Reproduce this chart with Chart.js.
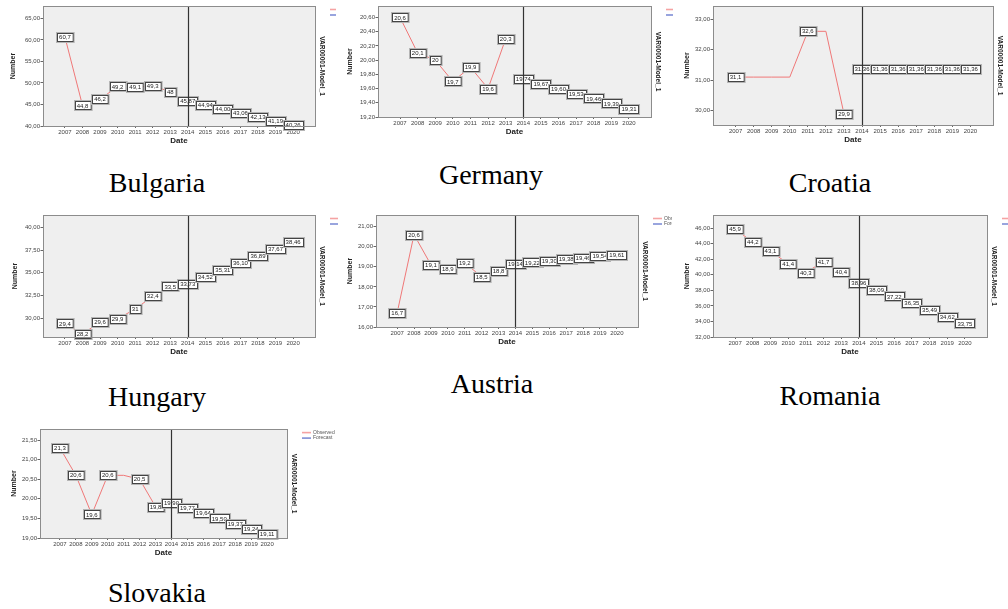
<!DOCTYPE html>
<html>
<head>
<meta charset="utf-8">
<script src="https://cdn.jsdelivr.net/npm/chart.js"></script>
<style>
body { margin: 0; background: #fff; width: 1008px; height: 609px; position: relative; overflow: hidden; }
canvas { position: absolute; }
.caption { position: absolute; font-family: 'Liberation Serif', 'Times New Roman', serif; font-size: 28px; color: #000; transform: translate(-50%, -50%); white-space: nowrap; }
</style>
</head>
<body>
<canvas id="bulgaria" width="336" height="150" style="left:0px;top:0px"></canvas>
<canvas id="germany" width="335" height="150" style="left:338px;top:0px"></canvas>
<canvas id="croatia" width="328" height="150" style="left:680px;top:0px"></canvas>
<canvas id="hungary" width="338" height="155" style="left:0px;top:205px"></canvas>
<canvas id="austria" width="332" height="150" style="left:340px;top:205px"></canvas>
<canvas id="romania" width="328" height="155" style="left:680px;top:205px"></canvas>
<canvas id="slovakia" width="360" height="135" style="left:0px;top:425px"></canvas>

<div class="caption" style="left:157px;top:183px">Bulgaria</div>
<div class="caption" style="left:491px;top:175px">Germany</div>
<div class="caption" style="left:830px;top:183px">Croatia</div>
<div class="caption" style="left:157px;top:397px">Hungary</div>
<div class="caption" style="left:492px;top:384px">Austria</div>
<div class="caption" style="left:830px;top:396px">Romania</div>
<div class="caption" style="left:157px;top:593px">Slovakia</div>

<script>
// years
var observedYears = [2007, 2008, 2009, 2010, 2011, 2012, 2013];
var forecastYears = [2014, 2015, 2016, 2017, 2018, 2019, 2020];
var yearTicks = observedYears.concat(forecastYears);

// Bulgaria
var bulgariaObserved = [60.7, 44.8, 46.2, 49.2, 49.1, 49.3, 48];
var bulgariaForecast = [45.87, 44.94, 44.00, 43.06, 42.13, 41.19, 40.26];
var bulgariaTicks = [40, 45, 50, 55, 60, 65];

// Germany
var germanyObserved = [20.6, 20.1, 20, 19.7, 19.9, 19.6, 20.3];
var germanyForecast = [19.74, 19.67, 19.60, 19.53, 19.46, 19.39, 19.31];
var germanyTicks = [19.2, 19.4, 19.6, 19.8, 20.0, 20.2, 20.4, 20.6];

// Croatia
var croatiaObserved = [31.1, 31.1, 31.1, 31.1, 32.6, 32.6, 29.9];
var croatiaForecast = [31.36, 31.36, 31.36, 31.36, 31.36, 31.36, 31.36];
var croatiaTicks = [30, 31, 32, 33];

// Hungary
var hungaryObserved = [29.4, 28.2, 29.6, 29.9, 31, 32.4, 33.5];
var hungaryForecast = [33.73, 34.52, 35.31, 36.10, 36.89, 37.67, 38.46];
var hungaryTicks = [30, 32.5, 35, 37.5, 40];

// Austria
var austriaObserved = [16.7, 20.6, 19.1, 18.9, 19.2, 18.5, 18.8];
var austriaForecast = [19.14, 19.22, 19.30, 19.38, 19.46, 19.54, 19.61];
var austriaTicks = [16, 17, 18, 19, 20, 21];

// Romania
var romaniaObserved = [45.9, 44.2, 43.1, 41.4, 40.3, 41.7, 40.4];
var romaniaForecast = [38.96, 38.09, 37.22, 36.35, 35.49, 34.62, 33.75];
var romaniaTicks = [32, 34, 36, 38, 40, 42, 44, 46];

// Slovakia
var slovakiaObserved = [21.3, 20.6, 19.6, 20.6, 20.6, 20.5, 19.8];
var slovakiaForecast = [19.90, 19.77, 19.64, 19.50, 19.37, 19.24, 19.11];
var slovakiaTicks = [19, 19.5, 20, 20.5, 21, 21.5];

function comma(s) { return String(s).replace('.', ','); }

// grey plot area, boxed labels, 2014 line, right-hand title and legend
var spssLook = {
    id: 'spssLook',
    beforeDraw: function(chart) {
        var a = chart.chartArea, ctx = chart.ctx;
        ctx.save();
        ctx.fillStyle = '#efefef';
        ctx.fillRect(a.left, a.top, a.right - a.left, a.bottom - a.top);
        ctx.restore();
    },
    afterDatasetsDraw: function(chart) {
        var ctx = chart.ctx;
        ctx.save();
        ctx.font = '6px "Liberation Sans", Arial, sans-serif';
        ctx.textAlign = 'center';
        ctx.textBaseline = 'middle';
        chart.data.datasets.forEach(function(ds, di) {
            var meta = chart.getDatasetMeta(di);
            meta.data.forEach(function(pt, i) {
                var v = ds.data[i].y;
                if (di === 0 && i > 0 && v === ds.data[i - 1].y) return;
                var txt = di === 0 ? comma(v) : comma(v.toFixed(2));
                var w = ctx.measureText(txt).width + 4, h = 8;
                var x = Math.round(pt.x - w / 2) + 0.5, y = Math.round(pt.y - h / 2) + 0.5;
                ctx.fillStyle = '#fff';
                ctx.fillRect(x, y, w, h);
                ctx.strokeStyle = '#b5b5b5';
                ctx.lineWidth = 1;
                ctx.strokeRect(x - 1, y - 1, w + 2, h + 2);
                ctx.strokeStyle = '#444';
                ctx.strokeRect(x, y, w, h);
                ctx.fillStyle = '#222';
                ctx.fillText(txt, pt.x, pt.y + 0.5);
            });
        });
        ctx.restore();
    },
    afterDraw: function(chart) {
        var a = chart.chartArea, ctx = chart.ctx;
        ctx.save();
        // forecast start
        var xl = Math.round(chart.scales.x.getPixelForValue(2014)) + 0.5;
        ctx.strokeStyle = '#333';
        ctx.lineWidth = 1.2;
        ctx.beginPath();
        ctx.moveTo(xl, a.top);
        ctx.lineTo(xl, a.bottom);
        ctx.stroke();
        // frame
        ctx.strokeStyle = '#8c8c8c';
        ctx.lineWidth = 1;
        ctx.strokeRect(Math.round(a.left) + 0.5, Math.round(a.top) + 0.5, Math.round(a.right - a.left), Math.round(a.bottom - a.top));
        // right title
        ctx.translate(a.right + 6.5, (a.top + a.bottom) / 2);
        ctx.rotate(Math.PI / 2);
        ctx.font = 'bold 6.5px "Liberation Sans", Arial, sans-serif';
        ctx.fillStyle = '#222';
        ctx.textAlign = 'center';
        ctx.textBaseline = 'middle';
        ctx.fillText('VAR00001-Model_1', 0, 0);
        ctx.restore();
        // legend
        ctx.save();
        var lx = a.right + 15;
        var items = [['Observed', '#f5a3a3', a.top + 3.5], ['Forecast', '#7f8ed6', a.top + 9]];
        ctx.font = '5px "Liberation Sans", Arial, sans-serif';
        ctx.textBaseline = 'middle';
        items.forEach(function(it) {
            ctx.strokeStyle = it[1];
            ctx.lineWidth = 1.6;
            ctx.beginPath();
            ctx.moveTo(lx, it[2]);
            ctx.lineTo(lx + 9, it[2]);
            ctx.stroke();
            ctx.fillStyle = '#555';
            ctx.fillText(it[0], lx + 11, it[2]);
        });
        ctx.restore();
    }
};

function makeChart(id, observed, forecast, yTicks, yMin, yMax, box) {
    var canvas = document.getElementById(id);
    var axisH = 22;
    return new Chart(canvas.getContext('2d'), {
        type: 'line',
        data: {
            datasets: [{
                label: 'Observed',
                data: observedYears.map(function(yr, i) { return {x: yr, y: observed[i]}; }),
                borderColor: '#f07878',
                borderWidth: 1,
                pointRadius: 0,
                fill: false
            }, {
                label: 'Forecast',
                data: forecastYears.map(function(yr, i) { return {x: yr, y: forecast[i]}; }),
                borderColor: '#7080d0',
                borderWidth: 1,
                pointRadius: 0,
                fill: false
            }]
        },
        options: {
            responsive: false,
            animation: false,
            events: [],
            layout: {
                padding: {
                    left: 0,
                    top: box.top - box.cTop,
                    right: box.cLeft + canvas.width - box.right,
                    bottom: box.cTop + canvas.height - box.bottom - axisH
                }
            },
            plugins: { legend: { display: false }, tooltip: { enabled: false } },
            scales: {
                x: {
                    type: 'linear',
                    min: 2005.75,
                    max: 2021.25,
                    afterBuildTicks: function(s) { s.ticks = yearTicks.map(function(v) { return {value: v}; }); },
                    afterFit: function(s) { s.height = axisH; },
                    border: { display: false },
                    grid: { drawOnChartArea: false, drawTicks: true, tickLength: 2, color: '#666' },
                    ticks: {
                        autoSkip: false, maxRotation: 0, padding: 1, color: '#444',
                        font: { family: '"Liberation Sans", Arial, sans-serif', size: 6 },
                        callback: function(v) { return String(v); }
                    },
                    title: {
                        display: true, text: 'Date', color: '#222',
                        font: { family: '"Liberation Sans", Arial, sans-serif', size: 8, weight: 'bold' },
                        padding: { top: 0, bottom: 2.2 }
                    }
                },
                y: {
                    min: yMin,
                    max: yMax,
                    afterBuildTicks: function(s) { s.ticks = yTicks.map(function(v) { return {value: v}; }); },
                    afterFit: function(s) { s.width = box.left - box.cLeft; },
                    border: { display: false },
                    grid: { drawOnChartArea: false, drawTicks: true, tickLength: 2.5, color: '#666' },
                    ticks: {
                        padding: 0.5, color: '#444',
                        font: { family: '"Liberation Sans", Arial, sans-serif', size: 6 },
                        callback: function(v) { return comma(Number(v).toFixed(2)); }
                    },
                    title: {
                        display: true, text: 'Number', color: '#222',
                        font: { family: '"Liberation Sans", Arial, sans-serif', size: 7, weight: 'bold' },
                        padding: { top: box.numberX - box.cLeft - 4.2, bottom: 0 }
                    }
                }
            }
        },
        plugins: [spssLook]
    });
}

makeChart('bulgaria', bulgariaObserved, bulgariaForecast, bulgariaTicks, 40, 67.9,
    {cLeft: 0, cTop: 0, left: 43, top: 6, right: 315, bottom: 126, numberX: 13});
makeChart('germany', germanyObserved, germanyForecast, germanyTicks, 19.2, 20.76,
    {cLeft: 338, cTop: 0, left: 378, top: 6, right: 651, bottom: 117, numberX: 350});
makeChart('croatia', croatiaObserved, croatiaForecast, croatiaTicks, 29.53, 33.43,
    {cLeft: 680, cTop: 0, left: 713, top: 6, right: 993, bottom: 125, numberX: 687});
makeChart('hungary', hungaryObserved, hungaryForecast, hungaryTicks, 27.9, 41.4,
    {cLeft: 0, cTop: 205, left: 43, top: 215, right: 315, bottom: 337, numberX: 15});
makeChart('austria', austriaObserved, austriaForecast, austriaTicks, 16, 21.58,
    {cLeft: 340, cTop: 205, left: 376, top: 215, right: 638, bottom: 327, numberX: 350});
makeChart('romania', romaniaObserved, romaniaForecast, romaniaTicks, 32, 47.7,
    {cLeft: 680, cTop: 205, left: 713, top: 215, right: 987, bottom: 337, numberX: 687});
makeChart('slovakia', slovakiaObserved, slovakiaForecast, slovakiaTicks, 19, 21.78,
    {cLeft: 0, cTop: 425, left: 40, top: 429, right: 287, bottom: 538, numberX: 14});
</script>
</body>
</html>
